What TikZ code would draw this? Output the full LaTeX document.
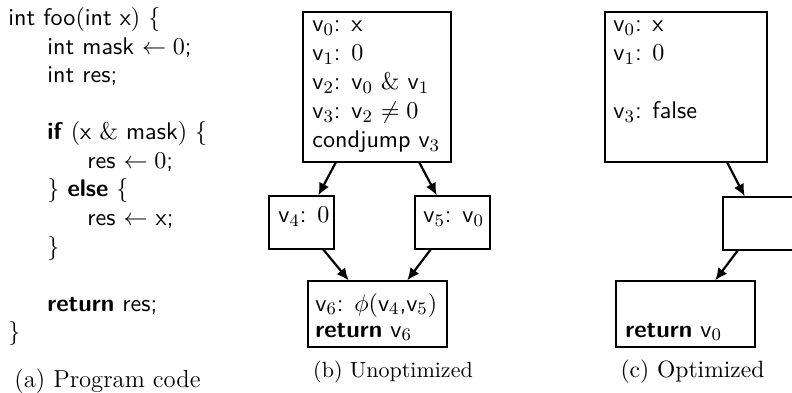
\documentclass[tikz,border=0pt]{standalone}
\usetikzlibrary{arrows.meta,fit,calc}
\newcommand\vn[1]{\textsf{v}$_{#1}$}
\begin{document}
\begin{tikzpicture}[x=0.4545pt,y=-0.4545pt,
  box/.style={draw, line width=0.5pt, inner sep=0pt},
  arr/.style={-{Latex[length=5.6pt,width=5pt]}, line width=1pt},
  txt/.style={anchor=base west, inner sep=0pt, font=\sffamily\fontsize{10.95}{13.6}\selectfont},
  captxt/.style={anchor=base, inner sep=0pt, font=\rmfamily\fontsize{10.7}{12}\selectfont}]
\clip (0,0) rectangle (792,393);

% (a) program code
\node[txt] (c1) at (8,26) {int foo$($int x$)$ $\{$};
\node[txt] (c2) at (47,54.5) {int mask $\leftarrow 0$;};
\node[txt] (c3) at (47,83) {int res;};
\node[txt] (c5) at (47,140) {\textbf{if} $($x $\&$ mask$)$ $\{$};
\node[txt] (c6) at (87,168.5) {res $\leftarrow 0$;};
\node[txt] (c7) at (47,197) {$\}$ \textbf{else} $\{$};
\node[txt] (c8) at (87,225.5) {res $\leftarrow$ x;};
\node[txt] (c9) at (47,254) {$\}$};
\node[txt] (c11) at (47,311) {\textbf{return} res;};
\node[txt] (c12) at (8,339.5) {$\}$};
\node[captxt, font=\rmfamily\fontsize{11.2}{13}\selectfont] (capa) at (107.5,387) {(a) Program code};

% (b) unoptimized
\node[box, fit={(303,12) (451,162)}] (b0) {};
\node[txt] at (312,32) {\vn{0}: x};
\node[txt] at (312,61) {\vn{1}: $0$};
\node[txt] at (312,90) {\vn{2}: \vn{0} $\&$ \vn{1}};
\node[txt] at (312,119) {\vn{3}: \vn{2} $\neq 0$};
\node[txt] at (312,148) {condjump \vn{3}};

\node[box, fit={(269,196) (334,249)}] (b4) {};
\node[txt] at (278,223) {\vn{4}: $0$};
\node[box, fit={(415,196) (490,249)}] (b5) {};
\node[txt] at (423,223) {\vn{5}: \vn{0}};

\node[box, fit={(308,281) (447,347)}] (b6) {};
\node[txt] at (315,311) {\vn{6}: $\phi($\vn{4},\vn{5}$)$};
\node[txt] at (315,337) {\textbf{return} \vn{6}};
\node[captxt, font=\rmfamily\fontsize{10}{12}\selectfont] (capb) at (393,377) {(b) Unoptimized};

\draw[arr] ($(b0.south west)!0.223!(b0.south east)$) -- ($(b4.north west)!0.754!(b4.north east)$);
\draw[arr] ($(b0.south west)!0.784!(b0.south east)$) -- ($(b5.north west)!0.293!(b5.north east)$);
\draw[arr] ($(b4.south west)!0.83!(b4.south east)$) -- ($(b6.north west)!0.295!(b6.north east)$);
\draw[arr] ($(b5.south west)!0.213!(b5.south east)$) -- ($(b6.north west)!0.712!(b6.north east)$);

% (c) optimized
\node[box, fit={(605,12) (767,162)}] (o0) {};
\node[txt] at (613,32) {\vn{0}: x};
\node[txt] at (613,61) {\vn{1}: $0$};
\node[txt] at (613,119) {\vn{3}: false};
\node[box, fit={(723,197) (798,250)}] (o5) {};
\node[box, fit={(616,281) (755,347)}] (o6) {};
\node[txt] at (625,337) {\textbf{return} \vn{0}};
\node[captxt] (capc) at (692.5,377) {(c) Optimized};

\draw[arr] ($(o0.south west)!0.753!(o0.south east)$) -- ($(o5.north west)!0.293!(o5.north east)$);
\draw[arr] ($(o5.south west)!0.2!(o5.south east)$) -- ($(o6.north west)!0.712!(o6.north east)$);
\end{tikzpicture}
\end{document}
